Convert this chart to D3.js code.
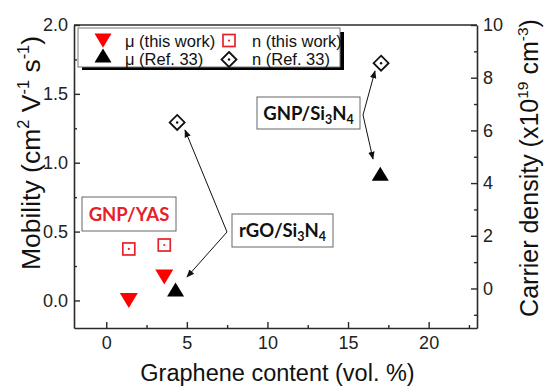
<!DOCTYPE html>
<html><head><meta charset="utf-8">
<script src="https://cdn.jsdelivr.net/npm/d3@7"></script>
<style>body{margin:0;background:#fff}</style>
</head><body><svg id="c" width="546" height="388"></svg>
<script>
// ---- data ----
const xThis = [1.4, 3.6];          // graphene content, this work
const muThis = [0.0, 0.17];        // mobility, this work
const nThis = [1.5, 1.65];         // carrier density, this work
const xRefMu = [4.3, 17.0];        // graphene content, Ref. 33 (mobility)
const muRef = [0.08, 0.92];        // mobility, Ref. 33
const xRefN = [4.4, 17.05];        // graphene content, Ref. 33 (density)
const nRef = [6.3, 8.55];          // carrier density, Ref. 33
const xTicks = [0, 5, 10, 15, 20];
const xMinor = [2.5, 7.5, 12.5, 17.5, 22.5];
const yLTicks = [0, 0.5, 1.0, 1.5, 2.0];
const yLMinor = [0.25, 0.75, 1.25, 1.75];
const yRTicks = [0, 2, 4, 6, 8, 10];
const yRMinor = [-1, 1, 3, 5, 7, 9];
const legendLabels = ["\u03bc (this work)", "\u03bc (Ref. 33)", "n (this work)", "n (Ref. 33)"];

const svg = d3.select("#c");
const L = 74, R = 477, T = 25, B = 328;
const x = d3.scaleLinear([-2, 23], [L, R]);
const yL = d3.scaleLinear([-0.2, 2.0], [B, T]);
const yR = d3.scaleLinear([-1.5, 10], [B, T]);
const font = "'Liberation Sans', Arial, sans-serif";
const axCol = "#2a2a2a";

function styleAxis(g) {
  g.select(".domain").attr("stroke", axCol).attr("stroke-width", 1.6);
  g.selectAll(".tick line").attr("stroke", axCol).attr("stroke-width", 1.4);
  g.selectAll(".tick text").attr("font-family", font).attr("font-size", 18).attr("fill", "#222");
}
// frame top
svg.append("line").attr("x1", L).attr("x2", R).attr("y1", T).attr("y2", T)
  .attr("stroke", axCol).attr("stroke-width", 1.6);

const gx = svg.append("g").attr("transform", `translate(0,${B})`)
  .call(d3.axisBottom(x).tickValues(xTicks).tickSizeInner(-6).tickSizeOuter(0).tickPadding(8).tickFormat(d3.format("d")));
styleAxis(gx);
const gxm = svg.append("g").attr("transform", `translate(0,${B})`)
  .call(d3.axisBottom(x).tickValues(xMinor).tickSizeInner(-3).tickSizeOuter(0).tickFormat(""));
gxm.select(".domain").remove(); styleAxis(gxm);

const gl = svg.append("g").attr("transform", `translate(${L},0)`)
  .call(d3.axisLeft(yL).tickValues(yLTicks).tickSizeInner(-6).tickSizeOuter(0).tickPadding(6).tickFormat(d3.format(".1f")));
styleAxis(gl);
const glm = svg.append("g").attr("transform", `translate(${L},0)`)
  .call(d3.axisLeft(yL).tickValues(yLMinor).tickSizeInner(-3).tickSizeOuter(0).tickFormat(""));
glm.select(".domain").remove(); styleAxis(glm);

const gr = svg.append("g").attr("transform", `translate(${R},0)`)
  .call(d3.axisRight(yR).tickValues(yRTicks).tickSizeInner(-6).tickSizeOuter(0).tickPadding(6).tickFormat(d3.format("d")));
styleAxis(gr);
const grm = svg.append("g").attr("transform", `translate(${R},0)`)
  .call(d3.axisRight(yR).tickValues(yRMinor).tickSizeInner(-3).tickSizeOuter(0).tickFormat(""));
grm.select(".domain").remove(); styleAxis(grm);

// ---- axis titles ----
function richText(g, parts, size) {
  const t = g.append("text").attr("font-family", font).attr("font-size", size).attr("fill", "#111");
  parts.forEach(p => {
    if (p.sup) t.append("tspan").attr("font-size", size * 0.62).attr("dy", -size * 0.42).text(p.t);
    else t.append("tspan").attr("dy", p.after ? size * 0.42 : 0).text(p.t);
  });
  return t;
}
svg.append("text").attr("x", (x(-2) + x(23)) / 2 + 2).attr("y", 381).attr("text-anchor", "middle")
  .attr("font-family", font).attr("font-size", 23.5).attr("fill", "#111").text("Graphene content (vol. %)");

const lt = richText(svg.append("g").attr("transform", "translate(40,153) rotate(-90)"),
  [{t: "Mobility (cm"}, {t: "2", sup: 1}, {t: " V", after: 1}, {t: "-1", sup: 1}, {t: " s", after: 1}, {t: "-1", sup: 1}, {t: ")", after: 1}], 26.5);
lt.attr("text-anchor", "middle");
const rt = richText(svg.append("g").attr("transform", "translate(538,168) rotate(-90)"),
  [{t: "Carrier density (x10"}, {t: "19", sup: 1}, {t: " cm", after: 1}, {t: "-3", sup: 1}, {t: ")", after: 1}], 25);
rt.attr("text-anchor", "middle");

// ---- marker shapes ----
const downTri = "M-9,-7.5L9,-7.5L0,7.5Z";
const upTri = "M-8.5,7L8.5,7L0,-7Z";
function square(g, cx, cy) {
  g.append("rect").attr("x", cx - 6).attr("y", cy - 6).attr("width", 12).attr("height", 12)
    .attr("fill", "none").attr("stroke", "#e8202a").attr("stroke-width", 1.7);
  g.append("circle").attr("cx", cx).attr("cy", cy).attr("r", 1.1).attr("fill", "#e8202a");
}
function diamond(g, cx, cy) {
  g.append("path").attr("d", `M${cx},${cy - 7.5}L${cx + 7.5},${cy}L${cx},${cy + 7.5}L${cx - 7.5},${cy}Z`)
    .attr("fill", "none").attr("stroke", "#111").attr("stroke-width", 1.8);
  g.append("circle").attr("cx", cx).attr("cy", cy).attr("r", 1.2).attr("fill", "#111");
}

const marks = svg.append("g");
xThis.forEach((d, i) => square(marks, x(d), yR(nThis[i])));
xRefN.forEach((d, i) => diamond(marks, x(d), yR(nRef[i])));
marks.selectAll(".mt").data(xThis).join("path").attr("d", downTri)
  .attr("transform", (d, i) => `translate(${x(d)},${yL(muThis[i])})`).attr("fill", "#ff0000");
marks.selectAll(".mr").data(xRefMu).join("path").attr("d", upTri)
  .attr("transform", (d, i) => `translate(${x(d)},${yL(muRef[i])})`).attr("fill", "#000");

// ---- legend ----
const lg = svg.append("g");
lg.append("rect").attr("x", 82).attr("y", 32).attr("width", 262).attr("height", 38).attr("fill", "#000");
lg.append("rect").attr("x", 78).attr("y", 28).attr("width", 262).attr("height", 39)
  .attr("fill", "#fff").attr("stroke", "#777").attr("stroke-width", 1);
lg.append("path").attr("d", downTri).attr("transform", "translate(103,40.5) scale(0.95)").attr("fill", "#ff0000");
lg.append("path").attr("d", upTri).attr("transform", "translate(103,55.5)").attr("fill", "#000");
square(lg, 229, 40.5);
diamond(lg, 229, 59.5);
const lpos = [[125, 46.5], [125, 64.5], [252, 46.5], [252, 64.5]];
legendLabels.forEach((s, i) => lg.append("text").attr("x", lpos[i][0]).attr("y", lpos[i][1])
  .attr("font-family", font).attr("font-size", 16.5).attr("fill", "#111").text(s));

// ---- annotations ----
const defs = svg.append("defs");
defs.append("marker").attr("id", "ah").attr("viewBox", "0 0 10 10").attr("refX", 9).attr("refY", 5)
  .attr("markerWidth", 8).attr("markerHeight", 8).attr("orient", "auto").attr("markerUnits", "userSpaceOnUse")
  .append("path").attr("d", "M0,1L10,5L0,9Z").attr("fill", "#111");

function labelBox(x0, y0, w, h, parts, color) {
  const g = svg.append("g");
  g.append("rect").attr("x", x0).attr("y", y0).attr("width", w).attr("height", h)
    .attr("fill", "#fff").attr("stroke", "#666").attr("stroke-width", 1);
  const t = g.append("text").attr("x", x0 + w / 2).attr("y", y0 + h / 2 + 6.5).attr("text-anchor", "middle")
    .attr("font-family", "Lato, 'Open Sans', sans-serif").attr("font-weight", 700).attr("font-size", 18.5).attr("fill", color);
  parts.forEach(p => {
    if (p.sub) t.append("tspan").attr("font-size", 12.5).attr("dy", 4).text(p.t);
    else t.append("tspan").attr("dy", p.back ? -4 : 0).text(p.t);
  });
}
labelBox(257, 97, 103, 32, [{t: "GNP/Si"}, {t: "3", sub: 1}, {t: "N", back: 1}, {t: "4", sub: 1}], "#111");
labelBox(232, 214, 101, 33, [{t: "rGO/Si"}, {t: "3", sub: 1}, {t: "N", back: 1}, {t: "4", sub: 1}], "#111");
labelBox(82, 197, 94, 34, [{t: "GNP/YAS"}], "#e8202a");

function arrow(x1, y1, x2, y2) {
  svg.append("line").attr("x1", x1).attr("y1", y1).attr("x2", x2).attr("y2", y2)
    .attr("stroke", "#111").attr("stroke-width", 1).attr("marker-end", "url(#ah)");
}
arrow(363, 115, 375, 71);
arrow(363, 115, 373, 159);
arrow(227, 232, 185, 130);
arrow(227, 232, 187, 277);
</script>
</body></html>
